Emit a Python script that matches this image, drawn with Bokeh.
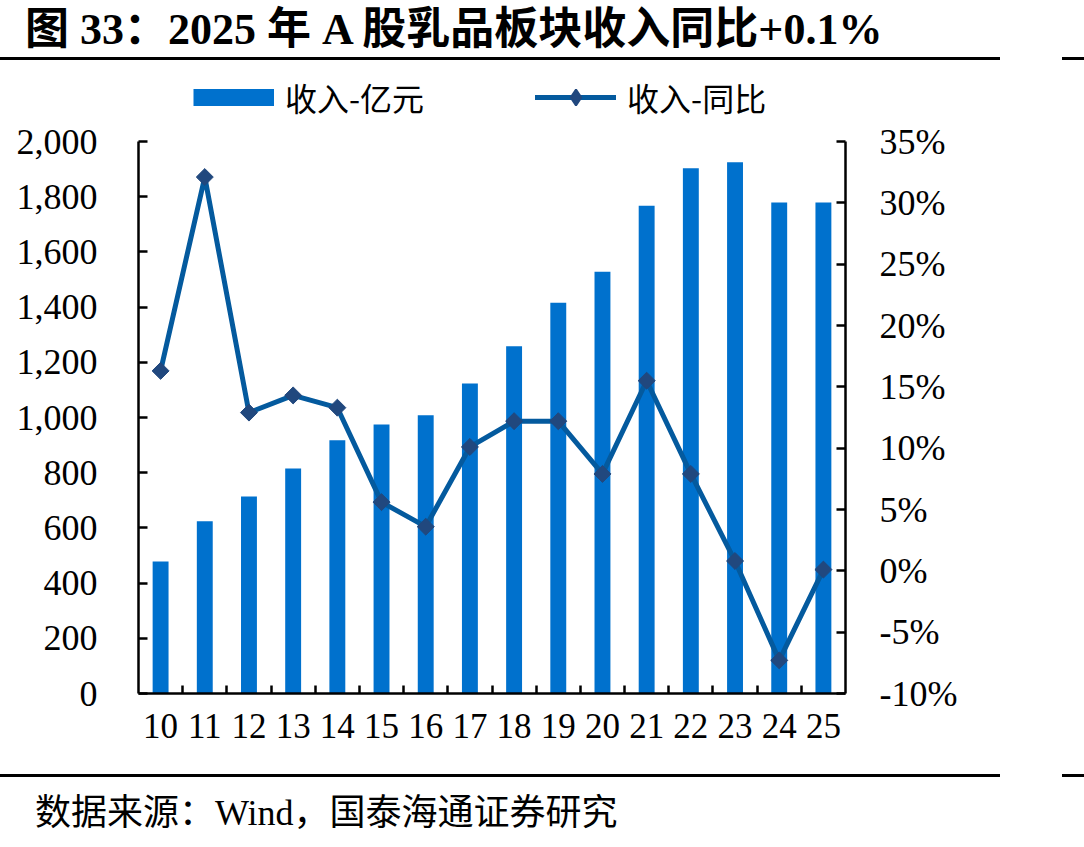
import math

from bokeh.plotting import figure
from bokeh.layouts import column
from bokeh.models import (Range1d, LinearAxis, FixedTicker, NumeralTickFormatter,
                          PrintfTickFormatter, Legend, LegendItem, Div)
from bokeh.embed import file_html
from bokeh.resources import INLINE

# ---- data -------------------------------------------------------------
years = ["10", "11", "12", "13", "14", "15", "16", "17",
         "18", "19", "20", "21", "22", "23", "24", "25"]
revenue = [478, 624, 714, 815, 918, 975, 1008, 1123,
           1258, 1416, 1528, 1767, 1903, 1925, 1779, 1779]      # 亿元
yoy = [16.3, 32.1, 12.9, 14.3, 13.3, 5.6, 3.6, 10.1,
       12.2, 12.2, 7.9, 15.5, 7.9, 0.8, -7.3, 0.1]              # %
rev_ticks = [0, 200, 400, 600, 800, 1000, 1200, 1400, 1600, 1800, 2000]
pct_ticks = [-10, -5, 0, 5, 10, 15, 20, 25, 30, 35]

title_text = "图 33：2025 年 A 股乳品板块收入同比+0.1%"
source_text = "数据来源：Wind，国泰海通证券研究"
bar_label = "收入-亿元"
line_label = "收入-同比"

# ---- styling ----------------------------------------------------------
BAR = "#0071CD"
LINE = "#045A9E"
MARK = "#21487E"
SERIF = "Liberation Serif"
CJK = "Noto Sans CJK SC"
MIXED_CSS = "'Liberation Serif','Noto Sans CJK SC',serif"
NAN = float("nan")

W = 1084
HEAD_H = 64          # title + rule
LEG_H = 57           # legend strip
FOOT_H = 87          # rule + source
MAIN_H = 847 - HEAD_H - LEG_H - FOOT_H
LEFT, RIGHT = 138, 845
FRAME_TOP, FRAME_BOTTOM = 141, 693
MAIN_Y0 = HEAD_H + LEG_H


def rule_html(top):
    bar = "position:absolute;top:%dpx;height:3px;background:#000;" % top
    return ('<div style="%sleft:0;width:1000px;"></div>'
            '<div style="%sleft:1062px;width:22px;"></div>' % (bar, bar))


def text_html(text, top, left, size, weight):
    return ('<div style="position:absolute;left:%dpx;top:%dpx;height:44px;'
            'line-height:44px;white-space:nowrap;color:#000;font-family:%s;'
            'font-size:%dpx;font-weight:%s;">%s</div>'
            % (left, top, MIXED_CSS, size, weight, text))


def block(height, inner):
    return Div(width=W, height=height, margin=0,
               text='<div style="position:relative;width:%dpx;height:%dpx;">%s</div>'
                    % (W, height, inner))


# ---- header: title and rule -----------------------------------------------
head = block(HEAD_H, text_html(title_text, 8, 25, 44, "bold") + rule_html(57))

# ---- legend strip -------------------------------------------------------
leg = figure(width=W, height=LEG_H, output_backend="svg", toolbar_location=None,
             x_range=Range1d(0, 1), y_range=Range1d(0, 1),
             x_axis_type=None, y_axis_type=None,
             min_border_left=LEFT, min_border_right=W - RIGHT,
             min_border_top=0, min_border_bottom=0)
leg.outline_line_color = None
leg.background_fill_color = "white"
leg.border_fill_color = "white"

# swatch renderers (no visible points of their own)
bar_swatch = leg.line(x=[NAN], y=[NAN], line_color=BAR, line_width=17, line_cap="butt")
line_swatch = leg.line(x=[NAN], y=[NAN], line_color=LINE, line_width=5, line_cap="round")
mark_swatch = leg.scatter(x=[NAN], y=[NAN], marker="diamond", size=12,
                          fill_color=MARK, line_color=MARK, line_width=2)

legend = Legend(items=[LegendItem(label=bar_label, renderers=[bar_swatch]),
                       LegendItem(label=line_label, renderers=[line_swatch, mark_swatch])],
                orientation="horizontal", location=(193 - LEFT, 1),
                glyph_width=81, glyph_height=40, label_standoff=11, spacing=111,
                padding=0, margin=0, border_line_color=None,
                background_fill_alpha=0,
                label_text_font=CJK, label_text_font_size="32px",
                label_text_color="black")
leg.add_layout(legend, "center")

# ---- chart ------------------------------------------------------------
idx = list(range(len(years)))

p = figure(width=W, height=MAIN_H, output_backend="svg", toolbar_location=None,
           x_range=Range1d(-0.5, len(years) - 0.5), y_range=Range1d(0, 2000),
           x_axis_type=None, y_axis_type=None,
           min_border_left=LEFT, min_border_right=W - RIGHT,
           min_border_top=FRAME_TOP - MAIN_Y0,
           min_border_bottom=MAIN_Y0 + MAIN_H - FRAME_BOTTOM)
p.outline_line_color = None
p.background_fill_color = "white"
p.border_fill_color = "white"
p.extra_y_ranges = {"pct": Range1d(-10, 35)}


def style_axis(ax):
    ax.axis_line_color = "black"
    ax.axis_line_width = 2.5
    ax.major_tick_line_color = "black"
    ax.major_tick_line_width = 2.5
    ax.minor_tick_line_color = None
    ax.major_label_text_font = SERIF
    ax.major_label_text_font_size = "36px"
    ax.major_label_text_color = "black"


# bottom axis: labels at category centres, ticks between categories
xaxis = LinearAxis(ticker=FixedTicker(ticks=idx,
                                      minor_ticks=[i + 0.5 for i in idx[:-1]]),
                   major_label_overrides={i: years[i] for i in idx})
style_axis(xaxis)
xaxis.major_tick_line_color = None
xaxis.minor_tick_line_color = "black"
xaxis.minor_tick_line_width = 2.5
xaxis.minor_tick_in = 8
xaxis.minor_tick_out = 0
xaxis.major_label_text_font_size = "35px"
xaxis.major_label_standoff = 14
p.add_layout(xaxis, "below")

yaxis = LinearAxis(ticker=FixedTicker(ticks=rev_ticks),
                   formatter=NumeralTickFormatter(format="0,0"))
style_axis(yaxis)
yaxis.major_tick_in = 9
yaxis.major_tick_out = 0
yaxis.major_label_standoff = 41
p.add_layout(yaxis, "left")

raxis = LinearAxis(y_range_name="pct", ticker=FixedTicker(ticks=pct_ticks),
                   formatter=PrintfTickFormatter(format="%d%%"))
style_axis(raxis)
raxis.major_tick_in = 9
raxis.major_tick_out = 0
raxis.major_label_standoff = 34
p.add_layout(raxis, "right")

p.vbar(x=idx, top=revenue, width=0.36, fill_color=BAR, line_color=None)
p.line(x=idx, y=yoy, y_range_name="pct", line_color=LINE,
       line_width=5, line_join="round", line_cap="round")
p.scatter(x=idx, y=yoy, y_range_name="pct", marker="square", size=12,
          angle=math.pi / 4, fill_color=MARK, line_color=MARK)

# ---- footer: rule and source ----------------------------------------------
foot = block(FOOT_H, rule_html(14) + text_html(source_text, 31, 35, 36, "normal"))

page = column(head, leg, p, foot, spacing=0)
open("out.html", "w").write(file_html(page, INLINE))
